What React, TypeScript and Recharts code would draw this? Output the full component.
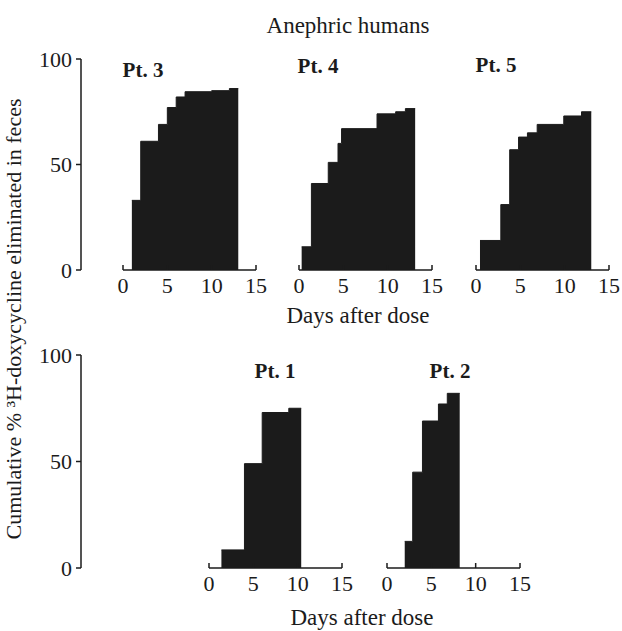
import React from "react";
import { AreaChart, Area, XAxis, YAxis } from "recharts";

// step start days (last entry = end of collection) and cumulative % eliminated
const pt3Days = [1, 2, 4, 5, 6, 7, 10, 12, 13];
const pt3Values = [33, 61, 69, 77, 82, 84.5, 85, 86, 86];
const pt4Days = [0.3, 1.4, 3.3, 4.4, 4.8, 8.8, 10.9, 12, 13.1];
const pt4Values = [11, 41, 51, 60, 67, 74, 75, 76.5, 76.5];
const pt5Days = [0.45, 2.8, 3.8, 4.8, 5.8, 6.9, 9.9, 11.9, 13];
const pt5Values = [14, 31, 57, 63, 65, 69, 73, 75, 75];
const pt1Days = [1.4, 4, 6, 9, 10.4];
const pt1Values = [8.5, 49, 73, 75, 75];
const pt2Days = [2, 2.9, 4, 5.8, 6.8, 8.2];
const pt2Values = [12.5, 45, 69, 77, 82, 82];

const dayTicks = [0, 5, 10, 15];
const pctTicks = [0, 50, 100];

const FONT = "'Liberation Serif', 'DejaVu Serif', serif";
const INK = "#1b1b1b";

const toRows = (days: number[], values: number[]) =>
  days.map((day, i) => ({ day, value: values[i] }));

const PLOT_W = 133;
const AXIS_H = 34;

// small tick pointing up into the plot, label underneath
const DayTick = (props: any) => {
  const { x, y, payload } = props;
  return (
    <g>
      <line x1={x} x2={x} y1={y} y2={y - 5} stroke={INK} strokeWidth={1.5} />
      <text x={x} y={y + 23} textAnchor="middle" fontSize={22} fontFamily={FONT} fill={INK}>
        {payload.value}
      </text>
    </g>
  );
};

function Panel({ days, values, left, top, plotH }: { days: number[]; values: number[]; left: number; top: number; plotH: number }) {
  const m = { top: 10, right: 14, bottom: 0, left: 10 };
  return (
    <div style={{ position: "absolute", left: left - m.left, top: top - m.top }}>
      <AreaChart width={m.left + PLOT_W + m.right} height={m.top + plotH + AXIS_H} data={toRows(days, values)} margin={m}>
        <XAxis
          dataKey="day"
          type="number"
          domain={[0, 15]}
          ticks={dayTicks}
          height={AXIS_H}
          tickSize={0}
          tickMargin={0}
          tickLine={false}
          stroke={INK}
          strokeWidth={1.5}
          tick={<DayTick />}
          interval={0}
        />
        <YAxis hide type="number" domain={[0, 100]} />
        <Area
          type="stepAfter"
          dataKey="value"
          stroke={INK}
          strokeWidth={1}
          fill={INK}
          fillOpacity={1}
          isAnimationActive={false}
          dot={false}
          activeDot={false}
        />
      </AreaChart>
    </div>
  );
}

function PctAxis({ top, plotH }: { top: number; plotH: number }) {
  const m = { top: 12, right: 4, bottom: 12, left: 0 };
  const axisX = 81;
  const w = 46;
  return (
    <div style={{ position: "absolute", left: axisX - w, top: top - m.top }}>
      <AreaChart width={w + 8 + m.right} height={m.top + plotH + m.bottom} data={[{ day: 0, value: 0 }]} margin={m}>
        <XAxis dataKey="day" type="number" domain={[0, 1]} hide />
        <YAxis
          type="number"
          domain={[0, 100]}
          ticks={pctTicks}
          width={w}
          tickSize={5}
          tickMargin={4}
          stroke={INK}
          strokeWidth={1.5}
          tick={{ fill: INK, fontSize: 22, fontFamily: FONT }}
          interval={0}
        />
        <Area dataKey="value" stroke="none" fill="none" isAnimationActive={false} />
      </AreaChart>
    </div>
  );
}

export default function App() {
  const topRow = 59;
  const topH = 211;
  const botRow = 355;
  const botH = 213;
  const txt = { fontFamily: FONT, fill: INK };
  return (
    <div style={{ position: "absolute", left: 0, top: 0, width: 622, height: 631, background: "#fff", overflow: "hidden" }}>
      <PctAxis top={topRow} plotH={topH} />
      <Panel days={pt3Days} values={pt3Values} left={123} top={topRow} plotH={topH} />
      <Panel days={pt4Days} values={pt4Values} left={299} top={topRow} plotH={topH} />
      <Panel days={pt5Days} values={pt5Values} left={476} top={topRow} plotH={topH} />
      <PctAxis top={botRow} plotH={botH} />
      <Panel days={pt1Days} values={pt1Values} left={209} top={botRow} plotH={botH} />
      <Panel days={pt2Days} values={pt2Values} left={387} top={botRow} plotH={botH} />
      <svg width={622} height={631} style={{ position: "absolute", left: 0, top: 0, pointerEvents: "none" }}>
        <text x={348} y={33} textAnchor="middle" fontSize={23} {...txt}>Anephric humans</text>
        <text x={143} y={77} textAnchor="middle" fontSize={21} fontWeight="bold" {...txt}>Pt. 3</text>
        <text x={318} y={73} textAnchor="middle" fontSize={21} fontWeight="bold" {...txt}>Pt. 4</text>
        <text x={496} y={72} textAnchor="middle" fontSize={21} fontWeight="bold" {...txt}>Pt. 5</text>
        <text x={275} y={378} textAnchor="middle" fontSize={21} fontWeight="bold" {...txt}>Pt. 1</text>
        <text x={450} y={378} textAnchor="middle" fontSize={21} fontWeight="bold" {...txt}>Pt. 2</text>
        <text x={358} y={323} textAnchor="middle" fontSize={23} {...txt}>Days after dose</text>
        <text x={362} y={625} textAnchor="middle" fontSize={23} {...txt}>Days after dose</text>
        <text x={0} y={0} transform="translate(21,319) rotate(-90)" textAnchor="middle" fontSize={22} {...txt}>
          Cumulative % ³H-doxycycline eliminated in feces
        </text>
      </svg>
    </div>
  );
}
